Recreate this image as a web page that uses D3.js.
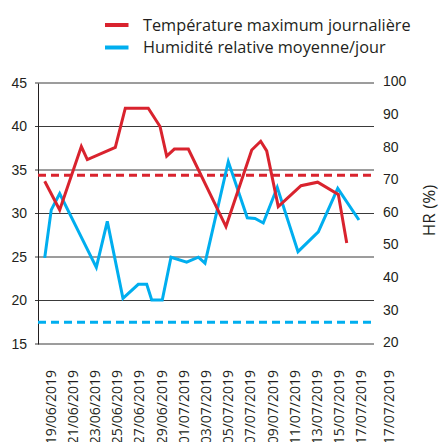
<!DOCTYPE html>
<html>
<head>
<meta charset="utf-8">
<script src="https://cdn.jsdelivr.net/npm/d3@7"></script>
<style>
body { margin: 0; background: #fff; }
svg { display: block; font-family: "Open Sans", sans-serif; }
.axis text { fill: #231f20; font-size: 14px; }
.grid line { stroke: #3a3a3a; stroke-width: 1; }
</style>
</head>
<body>
<svg width="439" height="442"></svg>
<script>
// jours comptés depuis le 19/06/2019
var tempJours = [ -0.54, 0.81, 2.76, 3.30, 5.82, 6.72, 8.79, 9.85, 10.45, 11.14,
		12.40, 15.79, 18.11, 18.92, 19.46, 20.50, 22.55, 24.05, 25.91, 26.67 ];
var tempMax = [ 33.7, 30.4, 37.7, 36.2, 37.6, 42.1, 42.1, 40.0, 36.6, 37.4,
		37.4, 28.5, 37.3, 38.3, 37.2, 30.8, 33.2, 33.6, 32.2, 26.6 ];
var humJours = [ -0.54, 0.05, 0.81, 4.11, 5.10, 6.51, 7.89, 8.65, 9.10, 10.05,
		10.84, 12.25, 13.30, 13.90, 16.0, 17.71, 18.41, 19.15, 20.41, 22.28,
		24.11, 25.86, 27.77 ];
var humMoy = [ 46.4, 61.1, 66.1, 43.5, 57.6, 34.0, 38.3, 38.3, 33.5, 33.5,
		46.6, 45.1, 46.6, 44.8, 75.9, 58.7, 58.5, 57.1, 68.0, 48.3, 54.4, 67.7,
		58.0 ];
var tempSeuil = 34.4;
var humSeuil = 26.7;
var tempTicks = [ 15, 20, 25, 30, 35, 40, 45 ];
var humTicks = [ 20, 30, 40, 50, 60, 70, 80, 90, 100 ];
var dateLabels = [ "19/06/2019", "21/06/2019", "23/06/2019", "25/06/2019",
		"27/06/2019", "29/06/2019", "01/07/2019", "03/07/2019", "05/07/2019",
		"07/07/2019", "09/07/2019", "11/07/2019", "13/07/2019", "15/07/2019",
		"17/07/2019", "17/07/2019" ];
var dateJours = [ 0, 2, 4, 6, 8, 10, 12, 14, 16, 18, 20, 22, 24, 26, 28, 30.5 ];
var series = [ "Température maximum journalière",
		"Humidité relative moyenne/jour" ];
var colors = [ "#d9232e", "#00aeef" ];

var margin = {
	left : 38,
	top : 83,
	right : 65,
	bottom : 98
};
var svg = d3.select("svg");
var width = 439 - margin.left - margin.right;
var height = 442 - margin.top - margin.bottom;
var svgG = svg.append("g").attr("transform",
		"translate(" + margin.left + "," + margin.top + ")");

var xScale = d3.scaleLinear().domain([ 0, 28 ]).range([ 12.7, 323.5 ]);
var yTemp = d3.scaleLinear().domain([ 15, 45 ]).range([ height, 0 ]);
var yHum = d3.scaleLinear().domain([ 20, 100 ]).range([ height, 0 ]);

// grille horizontale
svgG.append("g").attr("class", "grid").selectAll("line").data(tempTicks)
		.enter().append("line").attr("x1", -3).attr("x2", width).attr("y1",
				function(d) {
					return yTemp(d);
				}).attr("y2", function(d) {
			return yTemp(d);
		});

var axeG = svgG.append("g").attr("class", "axis").call(
		d3.axisLeft(yTemp).tickValues(tempTicks).tickSize(3).tickPadding(8)
				.tickSizeOuter(0));
axeG.select(".domain").attr("stroke", "#231f20");
axeG.selectAll(".tick line").remove();

var axeD = svgG.append("g").attr("class", "axis").attr("transform",
		"translate(" + width + ",0)").call(
		d3.axisRight(yHum).tickValues(humTicks).tickSize(0).tickPadding(9));
axeD.select(".domain").remove();
axeD.selectAll(".tick text").attr("dy", "0.2em");

svgG.append("text").attr("transform",
		"translate(" + (width + 55) + "," + (height / 2 - 3) + ") rotate(-90)")
		.attr("text-anchor", "middle").attr("dy", "0.35em").attr("fill",
				"#231f20").style("font-size", "17px").text("HR (%)");

// étiquettes de dates
svgG.append("g").attr("class", "axis").selectAll("text").data(dateLabels)
		.enter().append("text").attr("transform", function(d, i) {
			return "translate(" + xScale(dateJours[i]) + "," + (height + 26)
					+ ") rotate(-90)";
		}).attr("text-anchor", "end").attr("dy", "0.35em").text(function(d) {
			return d;
		});

// seuils
svgG.append("line").attr("x1", 0).attr("x2", width).attr("y1",
		yTemp(tempSeuil)).attr("y2", yTemp(tempSeuil)).attr("stroke",
		colors[0]).attr("stroke-width", 3).attr("stroke-dasharray", "8,5");
svgG.append("line").attr("x1", 0).attr("x2", width).attr("y1",
		yHum(humSeuil)).attr("y2", yHum(humSeuil)).attr("stroke", colors[1])
		.attr("stroke-width", 3).attr("stroke-dasharray", "8,5");

var tempData = tempJours.map(function(d, i) {
	return {
		x : d,
		y : tempMax[i]
	};
});
var humData = humJours.map(function(d, i) {
	return {
		x : d,
		y : humMoy[i]
	};
});

var lineTemp = d3.line().x(function(d) {
	return xScale(d.x);
}).y(function(d) {
	return yTemp(d.y);
});
var lineHum = d3.line().x(function(d) {
	return xScale(d.x);
}).y(function(d) {
	return yHum(d.y);
});

svgG.append("path").datum(humData).attr("fill", "none").attr("stroke",
		colors[1]).attr("stroke-width", 3).attr("stroke-linejoin", "miter")
		.attr("d", lineHum);
svgG.append("path").datum(tempData).attr("fill", "none").attr("stroke",
		colors[0]).attr("stroke-width", 3).attr("stroke-linejoin", "miter")
		.attr("d", lineTemp);

// légende
var legend = svg.append("g").selectAll("g").data(series).enter().append("g")
		.attr("transform", function(d, i) {
			return "translate(105," + (25 + i * 22.5) + ")";
		});
legend.append("line").attr("x1", 0).attr("x2", 23.5).attr("stroke",
		function(d, i) {
			return colors[i];
		}).attr("stroke-width", 4);
legend.append("text").attr("x", 38).attr("dy", "0.36em").attr("fill",
		"#231f20").style("font-size", "16.3px").text(function(d) {
	return d;
});
</script>
</body>
</html>
